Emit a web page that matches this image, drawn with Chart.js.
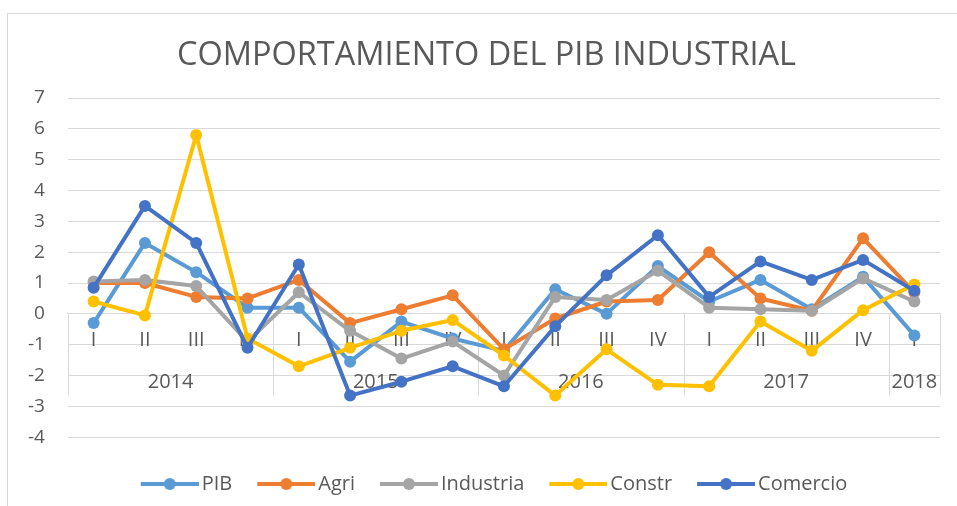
<!DOCTYPE html>
<html>
<head>
<meta charset="utf-8">
<script src="https://cdn.jsdelivr.net/npm/chart.js@4"></script>
<style>
  html, body { margin: 0; padding: 0; background: #fff; }
  #wrap { position: relative; width: 957px; height: 506px; }
  #frame { position: absolute; left: 7px; top: 13px; right: -2px; bottom: -2px; border: 1px solid #d9d9d9; }
  #chart { position: absolute; left: 0; top: 0; }
</style>
</head>
<body>
<div id="wrap">
  <div id="frame"></div>
  <canvas id="chart" width="957" height="506"></canvas>
</div>
<script>
// 四半期ラベルと年
const QUARTERS = ["I", "II", "III", "IV", "I", "II", "III", "IV", "I", "II", "III", "IV", "I", "II", "III", "IV", "I"];
const YEARS = ["2014", "2015", "2016", "2017", "2018"];
const YEAR_QUARTERS = [4, 4, 4, 4, 1];

// 系列データ
const PIB = [-0.3, 2.3, 1.35, 0.2, 0.2, -1.55, -0.25, -0.8, -1.2, 0.8, 0.0, 1.55, 0.4, 1.1, 0.15, 1.2, -0.7];
const AGRI = [1.0, 1.0, 0.55, 0.5, 1.1, -0.3, 0.15, 0.6, -1.15, -0.15, 0.4, 0.45, 2.0, 0.5, 0.1, 2.45, 0.7];
const INDUSTRIA = [1.05, 1.1, 0.9, -0.9, 0.7, -0.55, -1.45, -0.9, -2.0, 0.55, 0.45, 1.4, 0.2, 0.15, 0.1, 1.15, 0.4];
const CONSTR = [0.4, -0.05, 5.8, -0.8, -1.7, -1.1, -0.55, -0.2, -1.35, -2.65, -1.15, -2.3, -2.35, -0.25, -1.2, 0.12, 0.95];
const COMERCIO = [0.85, 3.5, 2.3, -1.1, 1.6, -2.65, -2.2, -1.7, -2.35, -0.4, 1.25, 2.55, 0.55, 1.7, 1.1, 1.75, 0.75];

const SERIES_NAMES = ["PIB", "Agri", "Industria", "Constr", "Comercio"];
const SERIES_DATA = [PIB, AGRI, INDUSTRIA, CONSTR, COMERCIO];
const SERIES_COLORS = ["#5B9BD5", "#ED7D31", "#A5A5A5", "#FFC000", "#4472C4"];

const TEXT_COLOR = "#595959";
const GRID_COLOR = "#d9d9d9";
const FONT = "'Open Sans', sans-serif";

// 凡例用の「線＋丸」マーカー（右寄せで描き、前の項目との間隔を作る）
const makeLegendMarker = (color) => {
  const c = document.createElement("canvas");
  c.width = 80;
  c.height = 14;
  const g = c.getContext("2d");
  g.strokeStyle = color;
  g.lineWidth = 4;
  g.beginPath();
  g.moveTo(22, 7);
  g.lineTo(80, 7);
  g.stroke();
  g.fillStyle = color;
  g.beginPath();
  g.arc(51, 7, 6, 0, Math.PI * 2);
  g.fill();
  return c;
};
const LEGEND_MARKERS = SERIES_COLORS.map(makeLegendMarker);

// 年の区切り線（カテゴリ軸の下段）
const yearSeparators = {
  id: "yearSeparators",
  beforeDatasetsDraw(chart) {
    const x = chart.scales.x;
    const y = chart.scales.y;
    const step = (x.right - x.left) / QUARTERS.length;
    const top = y.getPixelForValue(0);
    const bottom = y.getPixelForValue(-2.65);
    const ctx = chart.ctx;
    ctx.save();
    ctx.strokeStyle = GRID_COLOR;
    ctx.lineWidth = 1;
    let idx = 0;
    const edges = [0];
    YEAR_QUARTERS.forEach((n) => { idx += n; edges.push(idx); });
    edges.forEach((e) => {
      const px = Math.round(x.left + e * step) + 0.5;
      ctx.beginPath();
      ctx.moveTo(px, top);
      ctx.lineTo(px, bottom);
      ctx.stroke();
    });
    ctx.restore();
  },
};

// タイトルと凡例を枠の中央に寄せる
const centerBlocks = {
  id: "centerBlocks",
  afterLayout(chart) {
    [chart.titleBlock, chart.legend].forEach((box) => {
      if (!box) return;
      box.left += 14;
      box.right += 14;
    });
  },
};

// 年ラベルの位置（各年の四半期の中央）
const yearCenters = [];
{
  let start = 0;
  YEAR_QUARTERS.forEach((n) => {
    yearCenters.push(start + (n - 1) / 2);
    start += n;
  });
}

const datasets = SERIES_NAMES.map((name, i) => ({
  label: name,
  data: SERIES_DATA[i],
  borderColor: SERIES_COLORS[i],
  backgroundColor: SERIES_COLORS[i],
  pointBackgroundColor: SERIES_COLORS[i],
  pointBorderColor: SERIES_COLORS[i],
  borderWidth: 4,
  pointRadius: 6,
  pointBorderWidth: 0,
  borderJoinStyle: "round",
  borderCapStyle: "round",
  tension: 0,
  order: SERIES_NAMES.length - i,
}));

new Chart(document.getElementById("chart"), {
  type: "line",
  data: { labels: QUARTERS, datasets },
  plugins: [yearSeparators, centerBlocks],
  options: {
    responsive: false,
    animation: false,
    layout: { padding: { left: 5, right: 17, top: 13, bottom: 2 } },
    plugins: {
      tooltip: { enabled: false },
      title: {
        display: true,
        text: "COMPORTAMIENTO DEL PIB INDUSTRIAL",
        color: TEXT_COLOR,
        font: { family: FONT, size: 32.5, weight: "normal" },
        padding: { top: 23, bottom: 23 },
      },
      legend: {
        position: "bottom",
        title: { display: true, text: " ", font: { size: 4 }, padding: { top: 22, bottom: 0 } },
        labels: {
          color: TEXT_COLOR,
          font: { family: FONT, size: 20 },
          usePointStyle: true,
          pointStyleWidth: 66,
          boxHeight: 14,
          padding: 10,
          sort: (a, b) => a.datasetIndex - b.datasetIndex,
          generateLabels: (chart) =>
            Chart.defaults.plugins.legend.labels.generateLabels(chart).map((item) => {
              item.pointStyle = LEGEND_MARKERS[item.datasetIndex];
              return item;
            }),
        },
      },
    },
    scales: {
      y: {
        min: -4,
        max: 7,
        ticks: { stepSize: 1, color: TEXT_COLOR, font: { family: FONT, size: 19 }, padding: 23 },
        grid: { color: GRID_COLOR, drawTicks: false },
        border: { display: false },
      },
      x: {
        position: { y: 0 },
        offset: true,
        grid: { display: false, drawTicks: false },
        border: { display: true, color: GRID_COLOR },
        ticks: { color: TEXT_COLOR, font: { family: FONT, size: 20 }, padding: 14, maxRotation: 0, autoSkip: false },
      },
      x2: {
        type: "linear",
        axis: "x",
        position: { y: 0 },
        min: -0.5,
        max: QUARTERS.length - 0.5,
        grid: { display: false, drawTicks: true, tickLength: 56 },
        border: { display: false },
        afterBuildTicks: (scale) => {
          scale.ticks = yearCenters.map((v) => ({ value: v }));
        },
        ticks: {
          color: TEXT_COLOR,
          font: { family: FONT, size: 20 },
          padding: 0,
          maxRotation: 0,
          autoSkip: false,
          callback: (value) => YEARS[yearCenters.indexOf(value)],
        },
      },
    },
  },
});
</script>
</body>
</html>
